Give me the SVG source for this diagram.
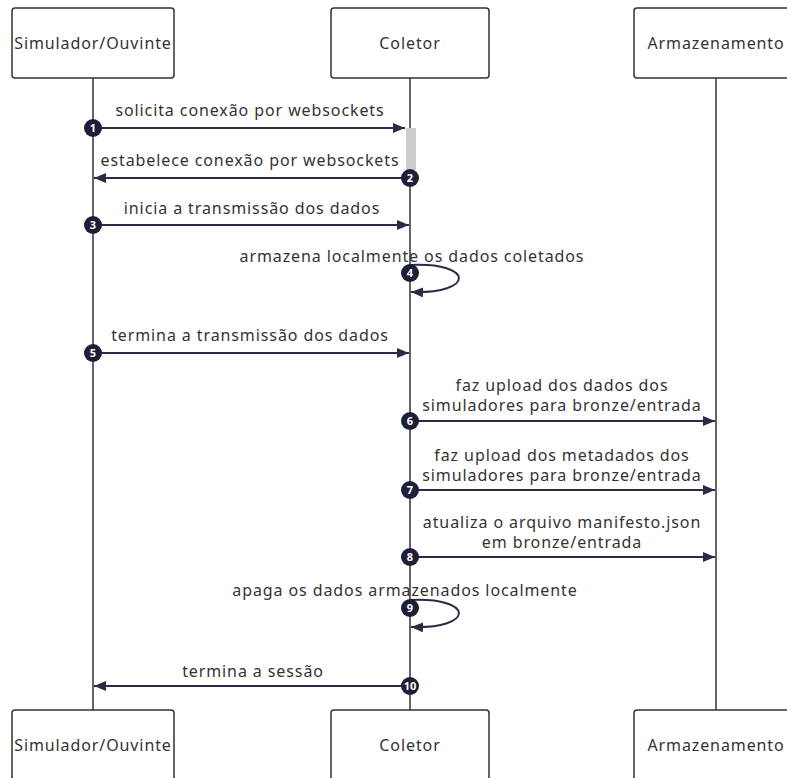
<svg xmlns="http://www.w3.org/2000/svg" width="787" height="778" viewBox="0 0 787 778">
<style>
.box{fill:#fff;stroke:#333;stroke-width:1.5}
.life{stroke:#333;stroke-width:1.5}
.msg{stroke:#2b2b45;stroke-width:2;fill:none}
.t{font-family:"Noto Sans",sans-serif;font-size:16px;letter-spacing:0.9px;fill:#333;text-anchor:middle}
.n{font-family:"Noto Sans",sans-serif;font-size:11px;fill:#fff;text-anchor:middle;font-weight:bold}
.c{fill:#1e1e38}
</style>
<defs>
<marker id="ah" viewBox="0 0 12 10" refX="12" refY="5" markerWidth="12" markerHeight="10" markerUnits="userSpaceOnUse" orient="auto"><path d="M0,0 L12,5 L0,10 z" fill="#2b2b45"/></marker>
</defs>
<g id="lifelines">
<line class="life" x1="93" y1="78" x2="93" y2="710"/>
<line class="life" x1="410" y1="78" x2="410" y2="710"/>
<line class="life" x1="716" y1="78" x2="716" y2="710"/>
</g>
<rect x="406" y="128" width="10" height="42" fill="#ccc"/>
<g id="n_sim_top"><rect class="box" x="12" y="8" width="162" height="70" rx="3"/><text class="t" x="93" y="49">Simulador/Ouvinte</text></g>
<g id="n_col_top"><rect class="box" x="331" y="8" width="158" height="70" rx="3"/><text class="t" x="410" y="49">Coletor</text></g>
<g id="n_arm_top"><rect class="box" x="634" y="8" width="164" height="70" rx="3"/><text class="t" x="716" y="49">Armazenamento</text></g>
<g id="n_sim_bot"><rect class="box" x="12" y="710" width="162" height="70" rx="3"/><text class="t" x="93" y="751">Simulador/Ouvinte</text></g>
<g id="n_col_bot"><rect class="box" x="331" y="710" width="158" height="70" rx="3"/><text class="t" x="410" y="751">Coletor</text></g>
<g id="n_arm_bot"><rect class="box" x="634" y="710" width="164" height="70" rx="3"/><text class="t" x="716" y="751">Armazenamento</text></g>
<g id="connectors">
<line class="msg" x1="93" y1="128" x2="405" y2="128" marker-end="url(#ah)"/>
<text class="t" x="250" y="116">solicita conexão por websockets</text>
<line class="msg" x1="410" y1="178" x2="94" y2="178" marker-end="url(#ah)"/>
<text class="t" x="250" y="166">estabelece conexão por websockets</text>
<line class="msg" x1="93" y1="225" x2="409" y2="225" marker-end="url(#ah)"/>
<text class="t" x="252" y="214">inicia a transmissão dos dados</text>
<path class="msg" d="M410,265 C475,262 475,294 411,292" marker-end="url(#ah)"/>
<text class="t" x="412" y="262">armazena localmente os dados coletados</text>
<line class="msg" x1="93" y1="353" x2="409" y2="353" marker-end="url(#ah)"/>
<text class="t" x="250" y="341">termina a transmissão dos dados</text>
<line class="msg" x1="410" y1="421" x2="715" y2="421" marker-end="url(#ah)"/>
<text class="t" x="562" y="391">faz upload dos dados dos</text>
<text class="t" x="562" y="411">simuladores para bronze/entrada</text>
<line class="msg" x1="410" y1="490" x2="715" y2="490" marker-end="url(#ah)"/>
<text class="t" x="562" y="461">faz upload dos metadados dos</text>
<text class="t" x="562" y="481">simuladores para bronze/entrada</text>
<line class="msg" x1="410" y1="557" x2="715" y2="557" marker-end="url(#ah)"/>
<text class="t" x="562" y="528">atualiza o arquivo manifesto.json</text>
<text class="t" x="562" y="548">em bronze/entrada</text>
<path class="msg" d="M410,600 C475,597 475,629 411,627" marker-end="url(#ah)"/>
<text class="t" x="405" y="596">apaga os dados armazenados localmente</text>
<line class="msg" x1="410" y1="686" x2="94" y2="686" marker-end="url(#ah)"/>
<text class="t" x="253" y="677">termina a sessão</text>
</g>
<g id="numbers">
<circle class="c" cx="93" cy="128" r="9"/><text class="n" x="93" y="132">1</text>
<circle class="c" cx="410" cy="178" r="9"/><text class="n" x="410" y="182">2</text>
<circle class="c" cx="93" cy="225" r="9"/><text class="n" x="93" y="229">3</text>
<circle class="c" cx="410" cy="273" r="9"/><text class="n" x="410" y="277">4</text>
<circle class="c" cx="93" cy="353" r="9"/><text class="n" x="93" y="357">5</text>
<circle class="c" cx="410" cy="421" r="9"/><text class="n" x="410" y="425">6</text>
<circle class="c" cx="410" cy="490" r="9"/><text class="n" x="410" y="494">7</text>
<circle class="c" cx="410" cy="557" r="9"/><text class="n" x="410" y="561">8</text>
<circle class="c" cx="410" cy="608" r="9"/><text class="n" x="410" y="612">9</text>
<circle class="c" cx="410" cy="686" r="9"/><text class="n" x="410" y="690">10</text>
</g>
</svg>
